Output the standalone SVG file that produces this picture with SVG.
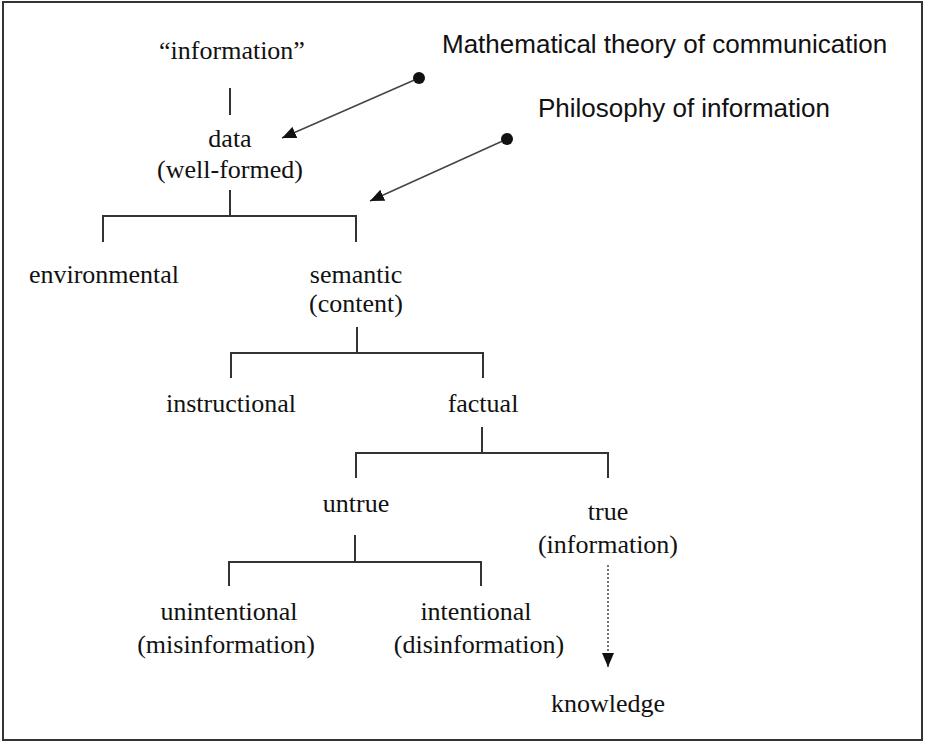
<svg xmlns="http://www.w3.org/2000/svg" width="925" height="743" viewBox="0 0 925 743">
<defs>
<style>
.t{font-family:"Liberation Serif","Times New Roman",serif;font-size:26px;fill:#111;text-anchor:middle}
.s{font-family:"Liberation Sans",Arial,sans-serif;font-size:26px;fill:#111}
.ln{stroke:#333;stroke-width:2;fill:none}
.ar{stroke:#444;stroke-width:1.5;fill:none}
.dt{stroke:#444;stroke-width:1.5;stroke-dasharray:2 2;fill:none}
</style>
<marker id="ah" markerWidth="14" markerHeight="12" refX="14" refY="6" orient="auto" markerUnits="userSpaceOnUse">
<path d="M0,0 L14,6 L0,12 Z" fill="#111"/>
</marker>
<marker id="dot" markerWidth="13" markerHeight="13" refX="6.5" refY="6.5" markerUnits="userSpaceOnUse">
<circle cx="6.5" cy="6.5" r="6" fill="#111"/>
</marker>
</defs>
<rect x="3" y="2" width="919" height="738" fill="#fff" stroke="#333" stroke-width="2"/>
<g id="connectors">
<path class="ln" d="M230,88 V115"/>
<path class="ln" d="M230,190 V216 M103,242 V216 H356 V242"/>
<path class="ln" d="M357,327 V353 M231,378 V353 H483 V378"/>
<path class="ln" d="M482,427 V453 M356,478 V453 H608 V478"/>
<path class="ln" d="M355,535 V562 M229,586 V562 H481 V586"/>
<path class="dt" d="M608,565 V667" marker-end="url(#ah)"/>
<path class="ar" d="M419,78 L282,138" marker-start="url(#dot)" marker-end="url(#ah)"/>
<path class="ar" d="M507,139 L370,201" marker-start="url(#dot)" marker-end="url(#ah)"/>
</g>
<g id="n-information"><text class="t" x="232" y="59">“information”</text></g>
<g id="n-data"><text class="t" x="230" y="147">data</text><text class="t" x="230" y="178">(well-formed)</text></g>
<g id="n-environmental"><text class="t" x="104" y="283">environmental</text></g>
<g id="n-semantic"><text class="t" x="356" y="283">semantic</text><text class="t" x="356" y="312">(content)</text></g>
<g id="n-instructional"><text class="t" x="231" y="412">instructional</text></g>
<g id="n-factual"><text class="t" x="483" y="412">factual</text></g>
<g id="n-untrue"><text class="t" x="356" y="512">untrue</text></g>
<g id="n-true"><text class="t" x="608" y="520">true</text><text class="t" x="608" y="553">(information)</text></g>
<g id="n-unintentional"><text class="t" x="229" y="620">unintentional</text><text class="t" x="226" y="653">(misinformation)</text></g>
<g id="n-intentional"><text class="t" x="476" y="620">intentional</text><text class="t" x="479" y="653">(disinformation)</text></g>
<g id="n-knowledge"><text class="t" x="608" y="712">knowledge</text></g>
<g id="n-mtc"><text class="s" x="442" y="53">Mathematical theory of communication</text></g>
<g id="n-poi"><text class="s" x="538" y="117">Philosophy of information</text></g>
</svg>
